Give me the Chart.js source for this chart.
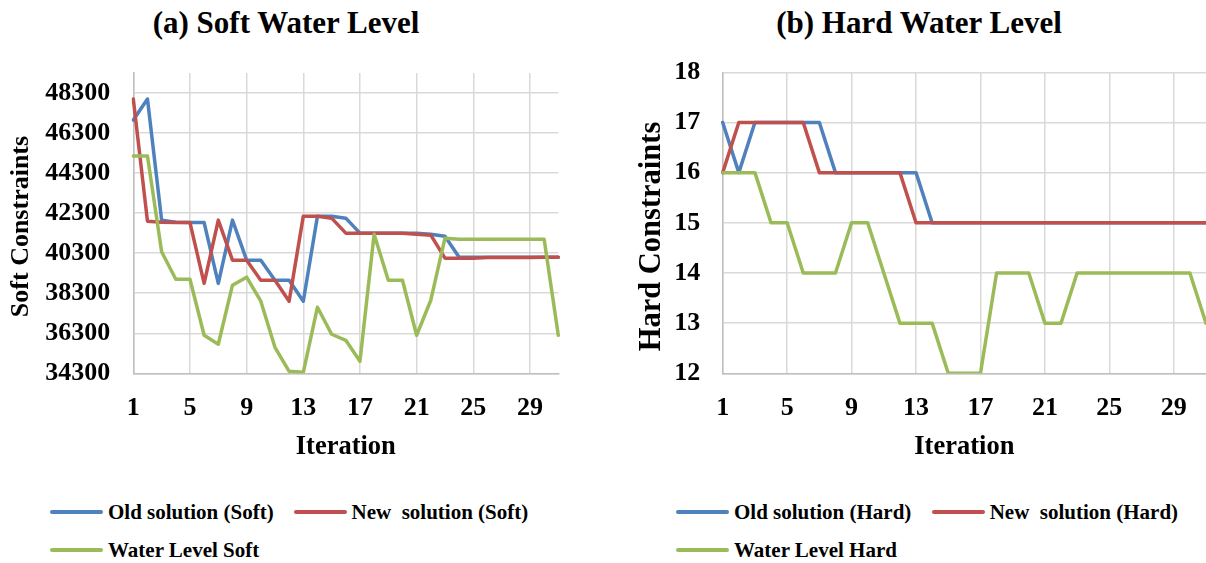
<!DOCTYPE html>
<html>
<head>
<meta charset="utf-8">
<title>Soft and Hard Water Level</title>
<script src="https://cdn.jsdelivr.net/npm/chart.js@4.4.1/dist/chart.umd.min.js"></script>
<style>
  html, body { margin: 0; padding: 0; background: #fff; }
  body {
    width: 1206px; height: 563px; position: relative; overflow: hidden;
    font-family: "Liberation Serif", "Times New Roman", serif; font-weight: bold; color: #000;
  }
  .title { position: absolute; top: 4px; width: 600px; height: 38px; line-height: 38px;
           font-size: 31px; text-align: center; white-space: nowrap; }
  .panel { position: absolute; top: 0; height: 470px; }
  .item { position: absolute; height: 24px; line-height: 24px; font-size: 21px; white-space: pre; }
  .swatch { position: absolute; left: 0; top: 10px; width: 53px; height: 4px; border-radius: 2px; }
  .label { position: absolute; left: 58px; top: 0; }
</style>
</head>
<body>
<div class="title" id="titleSoft" style="left:-14px">(a) Soft Water Level</div>
<div class="title" id="titleHard" style="left:619px">(b) Hard Water Level</div>
<div class="panel" style="left:0;width:600px"><canvas id="softChart" width="600" height="470"></canvas></div>
<div class="panel" style="left:600px;width:606px"><canvas id="hardChart" width="606" height="470"></canvas></div>
<div id="legendSoft"></div>
<div id="legendHard"></div>

<script>
// Iterations 1..31
const iterations = ['1','2','3','4','5','6','7','8','9','10','11','12','13','14','15','16',
                    '17','18','19','20','21','22','23','24','25','26','27','28','29','30','31'];

// Soft constraints per iteration
const oldSoft = [46950, 48000, 41950, 41850, 41830, 41830, 38790, 41950, 39950, 39950, 38950,
                 38950, 37900, 42150, 42150, 42050, 41300, 41300, 41300, 41300, 41300, 41250,
                 41150, 40100, 40100, 40100, 40100, 40100, 40100, 40100, 40100];
const newSoft = [48000, 41900, 41850, 41830, 41830, 38790, 41950, 39950, 39950, 38950, 38950,
                 37900, 42150, 42150, 42050, 41300, 41300, 41300, 41300, 41300, 41250, 41200,
                 40050, 40050, 40050, 40080, 40080, 40080, 40080, 40100, 40100];
const waterSoft = [45150, 45150, 40370, 39000, 39000, 36200, 35750, 38700, 39100, 37900, 35600,
                   34400, 34350, 37600, 36250, 35950, 34900, 41250, 38950, 38950, 36200, 37950,
                   41050, 41000, 41000, 41000, 41000, 41000, 41000, 41000, 36200];

// Hard constraints per iteration
const oldHard = [17, 16, 17, 17, 17, 17, 17, 16, 16, 16, 16, 16, 16, 15, 15, 15,
                 15, 15, 15, 15, 15, 15, 15, 15, 15, 15, 15, 15, 15, 15, 15];
const newHard = [16, 17, 17, 17, 17, 17, 16, 16, 16, 16, 16, 16, 15, 15, 15, 15,
                 15, 15, 15, 15, 15, 15, 15, 15, 15, 15, 15, 15, 15, 15, 15];
const waterHard = [16, 16, 16, 15, 15, 14, 14, 14, 15, 15, 14, 13, 13, 13, 12, 12,
                   12, 14, 14, 14, 13, 13, 14, 14, 14, 14, 14, 14, 14, 14, 13];

// Axis tick values
const softTicks = [34300, 36300, 38300, 40300, 42300, 44300, 46300, 48300];
const hardTicks = [12, 13, 14, 15, 16, 17, 18];

// Series names
const softNames = ['Old solution (Soft)', 'New  solution (Soft)', 'Water Level Soft'];
const hardNames = ['Old solution (Hard)', 'New  solution (Hard)', 'Water Level Hard'];

const COLORS = ['#4F81BD', '#C0504D', '#9BBB59'];
const GRID = '#d9d9d9';
const AXIS = '#bfbfbf';
const FAMILY = "'Liberation Serif', 'Times New Roman', serif";

Chart.defaults.color = '#000';
Chart.defaults.font.family = FAMILY;

// Rotated y-axis caption drawn at a fixed centre point
const yCaption = {
  id: 'yCaption',
  afterDraw(chart, args, o) {
    if (!o || !o.text) return;
    const ctx = chart.ctx;
    ctx.save();
    ctx.translate(o.x, o.y);
    ctx.rotate(-Math.PI / 2);
    ctx.font = 'bold ' + o.size + 'px ' + FAMILY;
    ctx.fillStyle = '#000';
    ctx.textAlign = 'center';
    ctx.textBaseline = 'middle';
    ctx.fillText(o.text, 0, 0);
    ctx.restore();
  }
};

function series(names, values) {
  return values.map((v, i) => ({
    label: names[i],
    data: v,
    borderColor: COLORS[i],
    backgroundColor: COLORS[i],
    borderWidth: 3.5,
    pointRadius: 0,
    pointHoverRadius: 0,
    tension: 0,
    fill: false,
    borderJoinStyle: 'round',
    borderCapStyle: 'round',
    order: 2 - i
  }));
}

function buildChart(id, opts) {
  return new Chart(document.getElementById(id), {
    type: 'line',
    data: { labels: iterations, datasets: series(opts.names, opts.values) },
    plugins: [yCaption],
    options: {
      responsive: false,
      animation: false,
      devicePixelRatio: 1,
      layout: { padding: { left: 0, right: opts.padRight, top: opts.padTop, bottom: 0 } },
      plugins: {
        legend: { display: false },
        tooltip: { enabled: false },
        yCaption: opts.caption
      },
      scales: {
        x: {
          type: 'category',
          offset: false,
          grid: {
            drawTicks: true,
            tickLength: 19,
            tickColor: 'rgba(0,0,0,0)',
            lineWidth: 1.5,
            color: ctx => (ctx.index % 4 === 0 ? GRID : 'rgba(0,0,0,0)')
          },
          border: { color: AXIS, width: 1.5 },
          ticks: {
            autoSkip: false, maxRotation: 0, minRotation: 0, padding: 0,
            font: { family: FAMILY, size: 26, weight: 'bold' },
            callback: (v, i) => (i % 4 === 0 ? iterations[i] : '')
          },
          title: {
            display: true, text: 'Iteration',
            font: { family: FAMILY, size: 26.5, weight: 'bold' },
            padding: { top: 0, bottom: 7 }
          },
          afterFit: s => { s.height = 96.7; }
        },
        y: {
          type: 'linear',
          min: opts.min, max: opts.max,
          afterBuildTicks: s => { s.ticks = opts.ticks.map(v => ({ value: v })); },
          grid: { drawTicks: false, lineWidth: 1.5, color: GRID },
          border: { color: AXIS, width: 1.5 },
          ticks: {
            padding: opts.tickPad,
            font: { family: FAMILY, size: 26, weight: 'bold' },
            callback: v => String(v)
          },
          afterFit: s => { s.width = opts.yWidth; }
        }
      }
    }
  });
}

buildChart('softChart', {
  names: softNames, values: [oldSoft, newSoft, waterSoft],
  min: 34300, max: 49300, ticks: softTicks,
  caption: { text: 'Soft Constraints', x: 21.7, y: 226.5, size: 26 },
  yWidth: 133.3, tickPad: 23, padRight: 41.7, padTop: 73
});

buildChart('hardChart', {
  names: hardNames, values: [oldHard, newHard, waterHard],
  min: 12, max: 18, ticks: hardTicks,
  caption: { text: 'Hard Constraints', x: 51.7, y: 236.5, size: 30.5 },
  yWidth: 122.7, tickPad: 22.5, padRight: 0, padTop: 72.3
});

// Legends: swatch + name, positioned under each panel
function buildLegend(containerId, names, slots) {
  const box = document.getElementById(containerId);
  names.forEach((name, i) => {
    const item = document.createElement('div');
    item.className = 'item';
    item.style.left = slots[i][0] + 'px';
    item.style.top = (slots[i][1] - 12) + 'px';
    const sw = document.createElement('div');
    sw.className = 'swatch';
    sw.style.background = COLORS[i];
    const tx = document.createElement('span');
    tx.className = 'label';
    tx.textContent = name;
    item.appendChild(sw);
    item.appendChild(tx);
    box.appendChild(item);
  });
}

buildLegend('legendSoft', softNames, [[50, 512], [293.5, 512], [50, 550]]);
buildLegend('legendHard', hardNames, [[676, 512], [931.7, 512], [676, 550]]);
</script>
</body>
</html>
